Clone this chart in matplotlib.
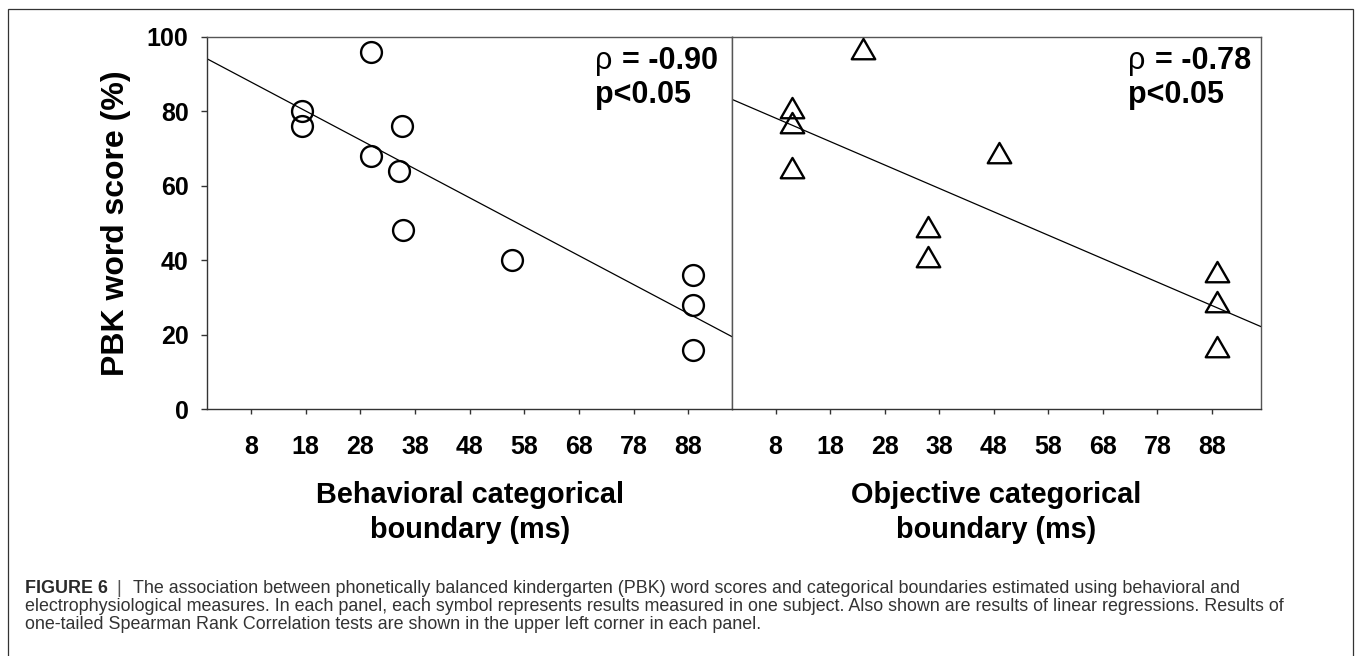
import numpy as np
import matplotlib
matplotlib.use("Agg")
import matplotlib.pyplot as plt
from matplotlib.path import Path
from matplotlib.markers import MarkerStyle
from matplotlib.patches import Rectangle

plt.rcParams['font.family'] = ['Liberation Sans', 'DejaVu Sans']

# ---- data: categorical boundary (ms) vs PBK word score (%) per subject ----
behav_boundary = [17.4, 17.4, 30.0, 30.0, 35.6, 35.0, 35.8, 55.8, 88.8, 88.8, 88.8]
behav_score = [80, 76, 96, 68, 76, 64, 48, 40, 36, 28, 16]

obj_boundary = [24.0, 11.0, 11.0, 11.0, 49.0, 36.0, 36.0, 89.0, 89.0, 89.0]
obj_score = [96, 80, 76, 64, 68, 48, 40, 36, 28, 16]

x_ticks = [8, 18, 28, 38, 48, 58, 68, 78, 88]
y_ticks = [0, 20, 40, 60, 80, 100]
rho_values = ["= -0.90", "= -0.78"]
p_texts = ["p<0.05", "p<0.05"]
x_titles = ["Behavioral categorical\nboundary (ms)", "Objective categorical\nboundary (ms)"]
y_title = "PBK word score (%)"
x_limits = [(0, 96), (0, 97)]

caption_head = "FIGURE 6"
caption_lines = [
    "The association between phonetically balanced kindergarten (PBK) word scores and categorical boundaries estimated using behavioral and",
    "electrophysiological measures. In each panel, each symbol represents results measured in one subject. Also shown are results of linear regressions. Results of",
    "one-tailed Spearman Rank Correlation tests are shown in the upper left corner in each panel.",
]

# ---- figure geometry (pixels) ----
W, H = 1356, 656
fig = plt.figure(figsize=(W / 100, H / 100), dpi=100)
fig.patch.set_facecolor('white')


def fx(px):
    return px / W


def fy(py):
    return 1 - py / H


top_px, bot_px = 36.7, 409.3
ax1 = fig.add_axes([fx(207.3), fy(bot_px), (732 - 207.3) / W, (bot_px - top_px) / H])
ax2 = fig.add_axes([fx(732), fy(bot_px), (1261 - 732) / W, (bot_px - top_px) / H])

# triangle marker anchored at its centroid
tri_path = Path([(0, 1.155), (-1, -0.577), (1, -0.577), (0, 1.155)],
                [Path.MOVETO, Path.LINETO, Path.LINETO, Path.CLOSEPOLY])
tri_marker = MarkerStyle(tri_path, joinstyle='miter')

panels = [
    (ax1, behav_boundary, behav_score, 'o', 15, x_limits[0]),
    (ax2, obj_boundary, obj_score, tri_marker, 19.5, x_limits[1]),
]

for i, (ax, xs, ys, mk, ms, xl) in enumerate(panels):
    ax.set_xlim(*xl)
    ax.set_ylim(0, 100)

    # linear regression over the full axis range
    slope, intercept = np.polyfit(xs, ys, 1)
    xr = np.array(xl, dtype=float)
    ax.plot(xr, intercept + slope * xr, color='black', lw=0.9, zorder=2)

    ax.plot(xs, ys, linestyle='none', marker=mk, markersize=ms,
            markerfacecolor='none', markeredgecolor='black',
            markeredgewidth=1.7, zorder=3, clip_on=False)

    ax.set_xticks(x_ticks)
    ax.set_xticklabels([str(t) for t in x_ticks], fontsize=18, fontweight='bold')
    ax.tick_params(axis='x', direction='out', length=3.8, width=1.0,
                   color='#333333', pad=14.5)

    for side in ['top', 'right']:
        ax.spines[side].set_color('#555555')
        ax.spines[side].set_linewidth(1.0)
    for side in ['left', 'bottom']:
        ax.spines[side].set_color('#333333')
        ax.spines[side].set_linewidth(1.0)

    ax.set_xlabel(x_titles[i], fontsize=20.8, fontweight='bold',
                  labelpad=16, linespacing=1.3)

    # Spearman statistics
    xa = 0.739 if i == 0 else 0.749
    ax.text(xa, 0.912, "ρ", transform=ax.transAxes, fontsize=22,
            fontweight='normal', ha='left', va='baseline')
    ax.text(xa + (26.7 / ax.bbox.width), 0.912, rho_values[i],
            transform=ax.transAxes, fontsize=22, fontweight='bold',
            ha='left', va='baseline')
    ax.text(xa, 0.823, p_texts[i], transform=ax.transAxes, fontsize=22,
            fontweight='bold', ha='left', va='baseline')

ax1.set_yticks(y_ticks)
ax1.set_yticklabels([str(t) for t in y_ticks], fontsize=18, fontweight='bold')
ax1.tick_params(axis='y', direction='out', length=4, width=1.0,
                color='#333333', pad=9.5)
ax1.set_ylabel(y_title, fontsize=23, fontweight='bold', labelpad=11.5)
ax1.spines['right'].set_color('#555555')

ax2.tick_params(axis='y', left=False, labelleft=False)
ax2.spines['left'].set_color('#555555')

# ---- caption ----
cap_size = 12.9
base = [593, 611, 629]
fig.text(fx(25), fy(base[0]), caption_head, fontsize=cap_size, fontweight='bold',
         color='#2a2a2a', ha='left', va='baseline')
fig.text(fx(118.3), fy(base[0]), "|", fontsize=cap_size, color='#555555',
         ha='center', va='baseline')
fig.text(fx(133.3), fy(base[0]), caption_lines[0], fontsize=cap_size,
         color='#333333', ha='left', va='baseline')
fig.text(fx(25), fy(base[1]), caption_lines[1], fontsize=cap_size,
         color='#333333', ha='left', va='baseline')
fig.text(fx(25), fy(base[2]), caption_lines[2], fontsize=cap_size,
         color='#333333', ha='left', va='baseline')

# ---- outer frame around figure and caption ----
frame = Rectangle((fx(8), fy(700)), (1353 - 8) / W, (700 - 9) / H,
                  transform=fig.transFigure, fill=False, edgecolor='#333333',
                  lw=0.9, clip_on=False)
fig.add_artist(frame)

fig.savefig("out.png", dpi=100)
